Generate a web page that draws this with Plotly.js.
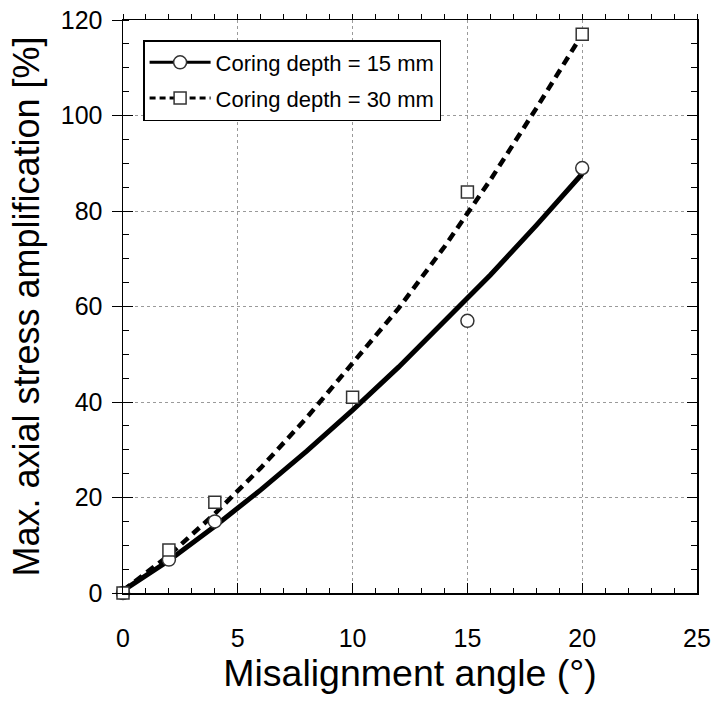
<!DOCTYPE html>
<html>
<head>
<meta charset="utf-8">
<script src="https://cdn.plot.ly/plotly-3.0.1.min.js"></script>
<style>html,body{margin:0;padding:0;background:#fff;}#chart{width:715px;height:704px;}</style>
</head>
<body>
<div id="chart"></div>
<script>
// Measured points
const angle15 = [0, 2, 4, 15, 20];
const amp15 = [0, 7, 15, 57, 89];
const angle30 = [0, 2, 4, 10, 15, 20];
const amp30 = [0, 9, 19, 41, 84, 117];
// Fitted curves
const fitAngle = [0, 2, 4, 6, 8, 10, 12, 14, 16, 18, 20];
const fit15 = [0.5, 6.8, 14.0, 21.6, 29.7, 38.3, 47.3, 56.8, 66.6, 77.0, 87.8];
const fit30 = [0.5, 7.9, 16.6, 26.2, 36.7, 48.0, 59.6, 72.5, 86.5, 101.5, 117.0];
const names = ["Coring depth = 15 mm", "Coring depth = 30 mm"];
const xTitle = "Misalignment angle (°)";
const yTitle = "Max. axial stress amplification [%]";

const FONT = "Arial, 'Liberation Sans', sans-serif";
const mk = {color: "#ffffff", size: 13, line: {color: "#333333", width: 1.5}};

const traces = [
  {x: fitAngle, y: fit30, mode: "lines", line: {color: "#000", width: 4.5, dash: "9px,6px"}, showlegend: false, hoverinfo: "skip"},
  {x: fitAngle, y: fit15, mode: "lines", line: {color: "#000", width: 5}, showlegend: false, hoverinfo: "skip"},
  {x: angle15, y: amp15, mode: "markers", marker: Object.assign({symbol: "circle"}, mk), showlegend: false, cliponaxis: false},
  {x: angle30, y: amp30, mode: "markers", marker: Object.assign({symbol: "square"}, mk, {size: 12}), showlegend: false, cliponaxis: false},
  {x: [null], y: [null], name: names[0], legendgroup: "a", mode: "lines+markers", line: {color: "#000", width: 3}, marker: Object.assign({symbol: "circle"}, mk)},
  {x: [null], y: [null], name: names[1], legendgroup: "b", mode: "lines+markers", line: {color: "#000", width: 3, dash: "6px,4px"}, marker: Object.assign({symbol: "square"}, mk, {size: 12})},
  {x: [], y: [], xaxis: "x2", yaxis: "y2", showlegend: false},
  {x: [], y: [], xaxis: "x", yaxis: "y3", showlegend: false}
];

const tickFont = {family: FONT, size: 25, color: "#000"};
const layout = {
  width: 715, height: 704,
  margin: {l: 123, r: 18, t: 20, b: 111},
  paper_bgcolor: "#fff", plot_bgcolor: "#fff",
  font: {family: FONT, color: "#000"},
  showlegend: true,
  legend: {x: 0.035, y: 0.965, xanchor: "left", yanchor: "top", bgcolor: "#fff", bordercolor: "#000", borderwidth: 1.5,
           font: {family: FONT, size: 22, color: "#000"}, itemwidth: 61, tracegroupgap: 4},
  xaxis: {range: [0, 25], dtick: 5, tick0: 0, showline: true, linecolor: "#000", linewidth: 1.5,
          ticks: "inside", ticklen: 10, tickwidth: 1, tickcolor: "#000",
          minor: {dtick: 1, ticks: "inside", ticklen: 5, tickcolor: "#000", tickwidth: 1, showgrid: false},
          showgrid: true, gridcolor: "#9a9a9a", griddash: "dot", gridwidth: 1, zeroline: false,
          tickfont: tickFont, ticklabelstandoff: 22,
          title: {text: xTitle, font: {family: FONT, size: 37.5, color: "#000"}, standoff: 6}},
  xaxis2: {range: [0, 25], overlaying: "x", side: "top", anchor: "y", dtick: 5, tick0: 0, showline: true, linecolor: "#000", linewidth: 1.5,
           ticks: "outside", ticklen: 5, tickcolor: "#000", tickwidth: 1, showticklabels: false, showgrid: false, zeroline: false,
           minor: {dtick: 1, ticks: "outside", ticklen: 5, tickcolor: "#000", tickwidth: 1, showgrid: false}},
  yaxis: {range: [0, 120], dtick: 20, tick0: 0, showline: true, linecolor: "#000", linewidth: 1.5,
          ticks: "outside", ticklen: 10, tickwidth: 1, tickcolor: "#000",
          minor: {dtick: 5, ticks: "inside", ticklen: 6, tickcolor: "#000", tickwidth: 1, showgrid: false},
          showgrid: true, gridcolor: "#9a9a9a", griddash: "dot", gridwidth: 1, zeroline: false,
          tickfont: tickFont, ticklabelstandoff: 4,
          title: {text: yTitle, font: {family: FONT, size: 36, color: "#000"}, standoff: 10}},
  yaxis2: {range: [0, 120], overlaying: "y", side: "right", anchor: "x", dtick: 20, tick0: 0, showline: true, linecolor: "#000", linewidth: 1.5,
           ticks: "inside", ticklen: 10, tickcolor: "#000", tickwidth: 1, showticklabels: false, showgrid: false, zeroline: false,
           minor: {dtick: 5, ticks: "inside", ticklen: 6, tickcolor: "#000", tickwidth: 1, showgrid: false}},
  yaxis3: {range: [0, 120], overlaying: "y", side: "left", anchor: "x", dtick: 20, tick0: 0, showline: false,
           ticks: "inside", ticklen: 10, tickcolor: "#000", tickwidth: 1, showticklabels: false, showgrid: false, zeroline: false}
};

Plotly.newPlot("chart", traces, layout, {staticPlot: true});
</script>
</body>
</html>
